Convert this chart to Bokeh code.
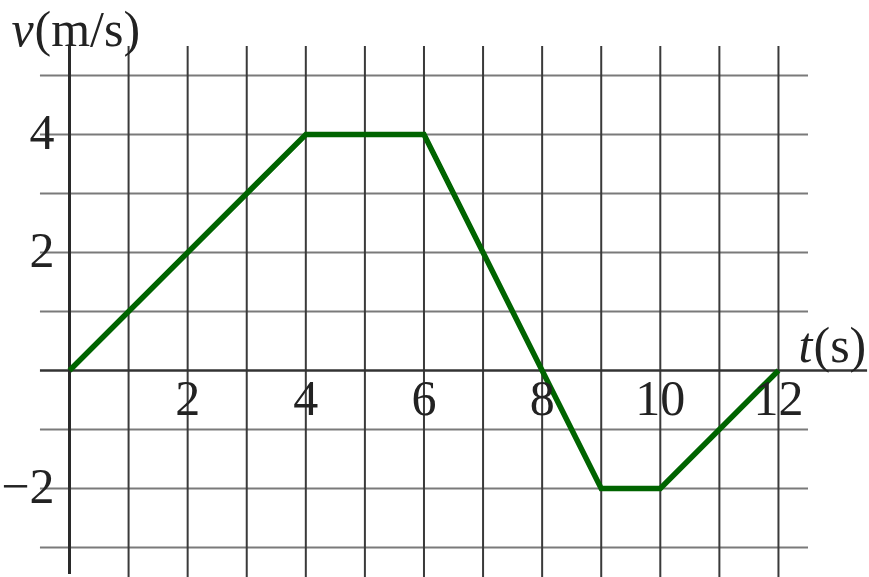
from bokeh.plotting import figure
from bokeh.models import Range1d
from bokeh.core.properties import value
from bokeh.embed import file_html
from bokeh.resources import INLINE

# ---- data ----
t_vals = [0, 4, 6, 9, 10, 12]
v_vals = [0, 4, 4, -2, -2, 0]
x_grid = [1, 2, 3, 4, 5, 6, 7, 8, 9, 10, 11, 12]
y_grid = [-3, -2, -1, 1, 2, 3, 4, 5]
x_ticks = [2, 4, 6, 8, 10, 12]
x_tick_labels = ["2", "4", "6", "8", "10", "12"]
y_ticks = [4, 2, -2]
y_tick_labels = ["4", "2", "\u22122"]

W, H = 869, 577
X0, XU = 69.0, 59.08   # pixel of t=0, pixels per unit
Y0, YU = 370.0, 59.0   # pixel of v=0, pixels per unit
def px2x(px):
    return (px - X0) / XU
def px2y(py):
    return (Y0 - py) / YU

p = figure(width=W, height=H, output_backend="svg", toolbar_location=None,
           x_range=Range1d(px2x(0), px2x(W)),
           y_range=Range1d(px2y(H), px2y(0)),
           x_axis_type=None, y_axis_type=None, min_border=0)
p.outline_line_color = None
p.background_fill_color = "white"
p.border_fill_color = "white"

FONT = value("Liberation Serif")
FS = "50px"
TC = "#222222"

# grid
p.segment(x0=[-0.5] * len(y_grid), y0=y_grid, x1=[12.5] * len(y_grid), y1=y_grid,
          line_color="#7a7a7a", line_width=2)
p.segment(x0=x_grid, y0=[-3.7] * len(x_grid), x1=x_grid, y1=[5.5] * len(x_grid),
          line_color="#3a3a3a", line_width=2)

# axes
p.segment(x0=[-0.5], y0=[0], x1=[13.5], y1=[0], line_color="#333333", line_width=2.5)
p.segment(x0=[0], y0=[5.5], x1=[0], y1=[-3.45], line_color="#2a2a2a", line_width=3)

# data line
p.line(t_vals, v_vals, line_color="#006400", line_width=5.5, line_join="miter")

# tick labels
p.text(x=x_ticks, y=[-28 / YU] * len(x_ticks), text=x_tick_labels,
       text_font=FONT, text_font_size=FS, text_align="center",
       text_baseline="alphabetic", text_color=TC)
p.text(x=[-15 / XU] * len(y_ticks), y=[yv + 2 / YU for yv in y_ticks], text=y_tick_labels,
       text_font=FONT, text_font_size=FS, text_align="right",
       text_baseline="alphabetic", text_color=TC)

# axis titles
p.text(x=[px2x(11)], y=[px2y(28)], text=["v"], text_font=FONT, text_font_size=FS,
       text_font_style="italic", text_align="left", text_baseline="alphabetic",
       text_color=TC)
p.text(x=[px2x(34)], y=[px2y(28)], text=["(m/s)"], text_font=FONT, text_font_size=FS,
       text_align="left", text_baseline="alphabetic", text_color=TC)
p.text(x=[px2x(798)], y=[px2y(344)], text=["t"], text_font=FONT, text_font_size=FS,
       text_font_style="italic", text_align="left", text_baseline="alphabetic",
       text_color=TC)
p.text(x=[px2x(813)], y=[px2y(344)], text=["(s)"], text_font=FONT, text_font_size=FS,
       text_align="left", text_baseline="alphabetic", text_color=TC)

open("out.html", "w").write(file_html(p, INLINE))
